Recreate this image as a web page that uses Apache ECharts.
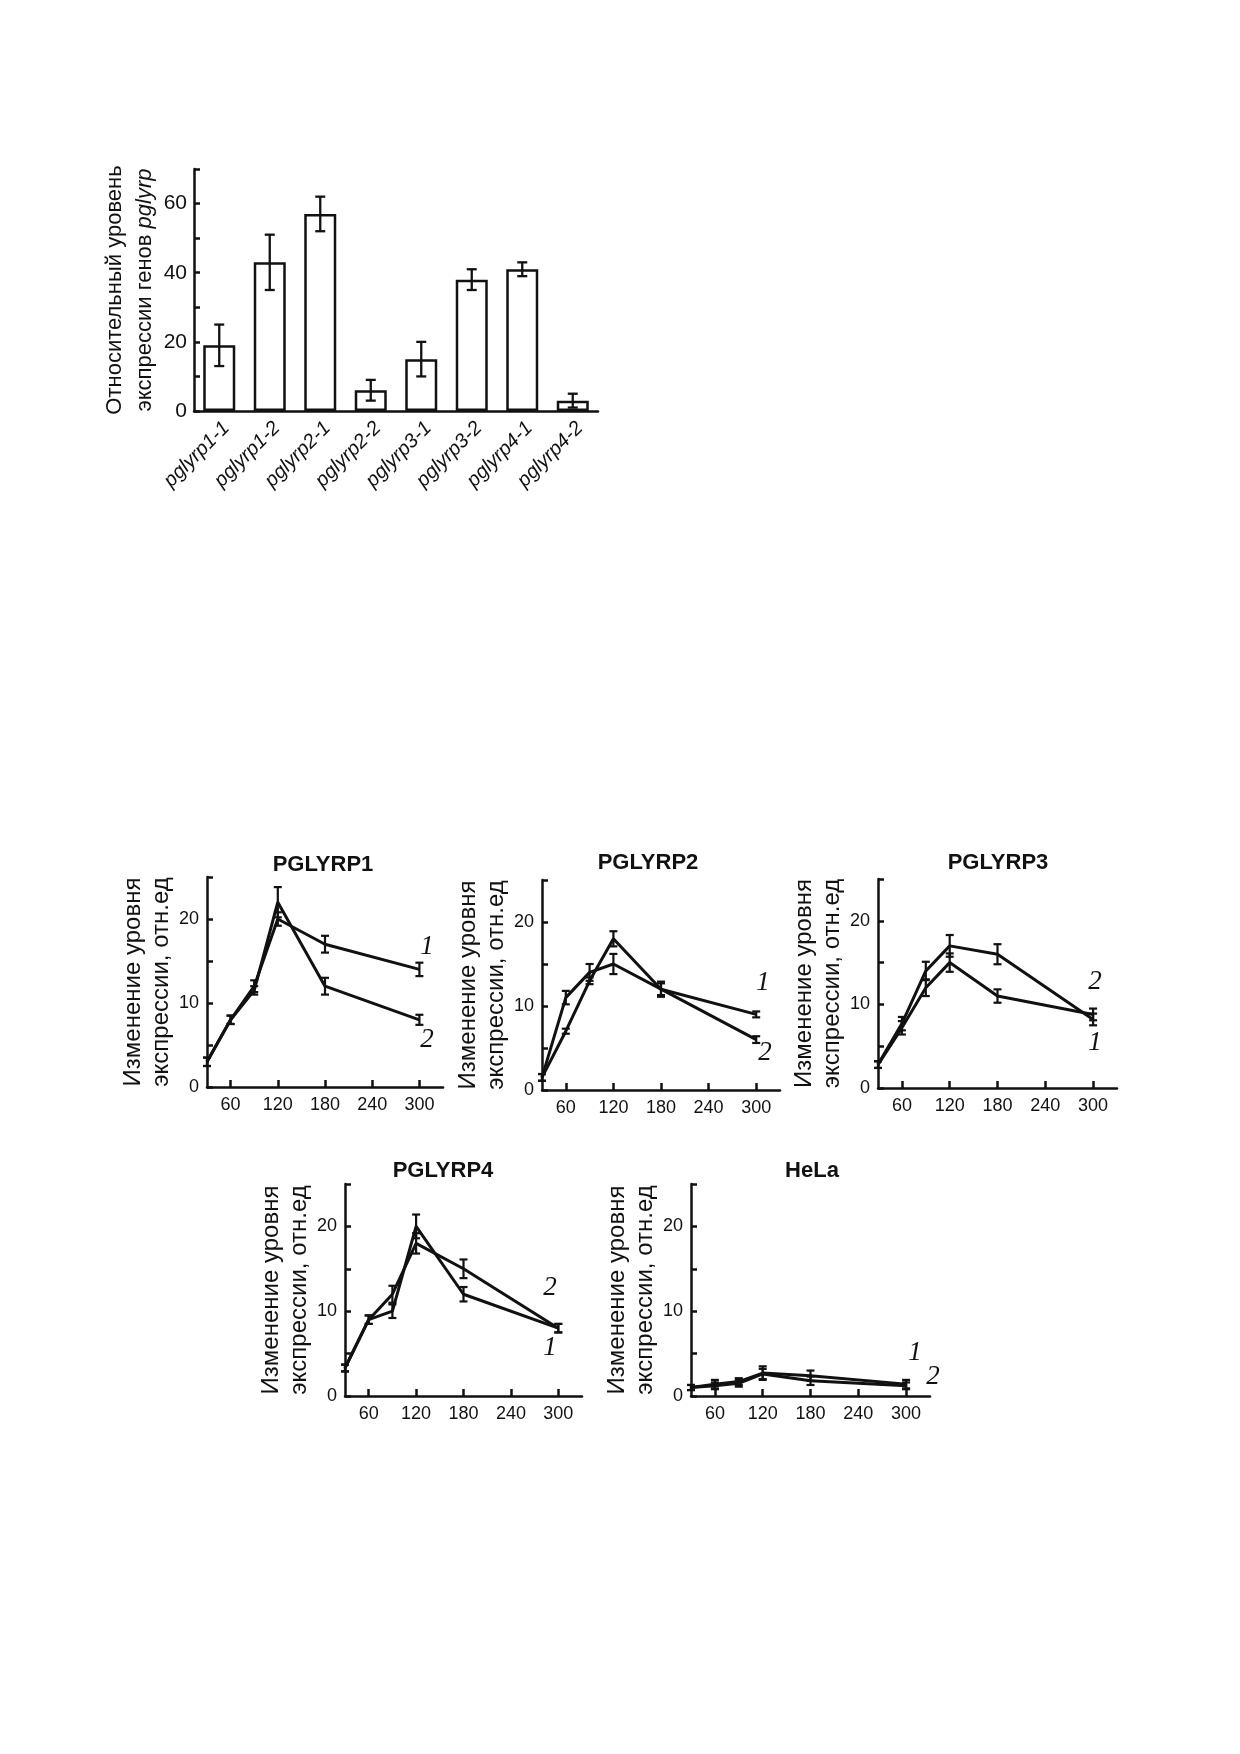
<!DOCTYPE html>
<html><head><meta charset="utf-8">
<script src="https://cdn.jsdelivr.net/npm/echarts@6/dist/echarts.min.js"></script>
<style>html,body{margin:0;padding:0;background:#fff}#c{width:1240px;height:1754px}</style>
</head><body><div id="c"></div>
<script>
// ---- Bar chart data ----
const barCategories = ['pglyrp1-1','pglyrp1-2','pglyrp2-1','pglyrp2-2','pglyrp3-1','pglyrp3-2','pglyrp4-1','pglyrp4-2'];
const barValues = [19, 43, 57, 6, 15, 38, 41, 3];
const barErrors = [6, 8, 5, 3, 5, 3, 2, 2];
const barYLabels = [0, 20, 40, 60];

// ---- Time course data ----
const timePoints = [30, 60, 90, 120, 180, 300];
const timeTickLabels = [60, 120, 180, 240, 300];
const lineYLabels = [0, 10, 20];
const panelTitles = ['PGLYRP1', 'PGLYRP2', 'PGLYRP3', 'PGLYRP4', 'HeLa'];

const p1Curve1 = [3, 8, 12, 20, 17, 14];
const p1Err1   = [0.5, 0.5, 0.7, 0.8, 1.0, 0.8];
const p1Curve2 = [3, 8, 11.5, 22, 12, 8];
const p1Err2   = [0.5, 0.5, 0.5, 1.8, 1.0, 0.6];

const p2Curve1 = [1.5, 11, 14, 15, 12, 9];
const p2Err1   = [0.4, 0.8, 1.0, 1.2, 0.9, 0.35];
const p2Curve2 = [1.5, 7, 13, 18, 12, 6];
const p2Err2   = [0.4, 0.3, 0.4, 0.9, 0.7, 0.4];

const p3Curve1 = [2.8, 7.2, 12, 15, 11, 8.8];
const p3Err1   = [0.4, 0.8, 1.0, 1.1, 0.8, 0.7];
const p3Curve2 = [2.8, 7.7, 14, 17, 16, 8.2];
const p3Err2   = [0.4, 0.8, 1.1, 1.3, 1.2, 0.7];

const p4Curve1 = [3.3, 9, 10, 20, 12, 8];
const p4Err1   = [0.4, 0.5, 0.8, 1.4, 0.85, 0.5];
const p4Curve2 = [3.3, 9, 12, 18, 15, 8];
const p4Err2   = [0.4, 0.5, 1.0, 1.2, 1.1, 0.5];

const p5Curve1 = [1, 1.4, 1.7, 2.7, 2.4, 1.4];
const p5Err1   = [0.3, 0.5, 0.4, 0.8, 0.6, 0.5];
const p5Curve2 = [1, 1.2, 1.5, 2.6, 1.8, 1.2];
const p5Err2   = [0.3, 0.4, 0.4, 0.6, 0.5, 0.4];

const curveLabels = ['1', '2'];

// ---- layout (style only) ----
const INK = '#111';
const SANS = 'Liberation Sans, Arial, sans-serif';
const SERIF = 'Liberation Serif, Times New Roman, serif';

const panels = [
  { c1: p1Curve1, e1: p1Err1, c2: p1Curve2, e2: p1Err2, grid: {left: 207, top: 877, width: 236, height: 210},
    title: [318, 862], lab1: [427, 947], lab2: [427, 1040] },
  { c1: p2Curve1, e1: p2Err1, c2: p2Curve2, e2: p2Err2, grid: {left: 542, top: 880, width: 238, height: 210},
    title: [643, 860], lab1: [763, 983], lab2: [765, 1053] },
  { c1: p3Curve1, e1: p3Err1, c2: p3Curve2, e2: p3Err2, grid: {left: 878, top: 879, width: 239, height: 209},
    title: [993, 860], lab1: [1095, 1043], lab2: [1095, 982] },
  { c1: p4Curve1, e1: p4Err1, c2: p4Curve2, e2: p4Err2, grid: {left: 345, top: 1184, width: 237, height: 212},
    title: [438, 1168], lab1: [550, 1348], lab2: [550, 1288] },
  { c1: p5Curve1, e1: p5Err1, c2: p5Curve2, e2: p5Err2, grid: {left: 691, top: 1184, width: 239, height: 212},
    title: [807, 1168], lab1: [915, 1353], lab2: [933, 1377] }
];

function errRender(capHalf, lw) {
  return function (params, api) {
    const x = api.value(0), lo = api.value(1), hi = api.value(2);
    const a = api.coord([x, lo]), b = api.coord([x, hi]);
    const st = { stroke: INK, lineWidth: lw, fill: null };
    return { type: 'group', children: [
      { type: 'line', shape: { x1: a[0], y1: a[1], x2: b[0], y2: b[1] }, style: st },
      { type: 'line', shape: { x1: a[0] - capHalf, y1: a[1], x2: a[0] + capHalf, y2: a[1] }, style: st },
      { type: 'line', shape: { x1: b[0] - capHalf, y1: b[1], x2: b[0] + capHalf, y2: b[1] }, style: st }
    ]};
  };
}

const grids = [{ left: 194, top: 169, width: 404, height: 242 }];
const xAxes = [{
  gridIndex: 0, type: 'category', data: barCategories,
  axisLine: { lineStyle: { color: INK, width: 2.5 } },
  axisTick: { inside: true, length: 5, alignWithLabel: false, lineStyle: { color: INK, width: 2.5 } },
  axisLabel: { interval: 0, rotate: 45, margin: 7, color: INK, fontFamily: SANS, fontSize: 20,
    fontStyle: 'italic', verticalAlign: 'top' }
}];
const yAxes = [{
  gridIndex: 0, type: 'value', min: 0, max: 70, interval: 10,
  splitLine: { show: false },
  axisLine: { show: true, lineStyle: { color: INK, width: 2.5 } },
  axisTick: { show: true, inside: true, length: 6, lineStyle: { color: INK, width: 2.5 } },
  axisLabel: { margin: 7, color: INK, fontFamily: SANS, fontSize: 21,
    formatter: v => barYLabels.includes(v) ? String(v) : '' },
  name: 'Относительный уровень\nэкспрессии генов {i|pglyrp}',
  nameLocation: 'middle', nameRotate: 90, nameGap: 33,
  nameTextStyle: { color: INK, fontFamily: SANS, fontSize: 22, lineHeight: 30,
    rich: { i: { fontStyle: 'italic', fontFamily: SANS, fontSize: 22, color: INK } } }
}];
const series = [
  { type: 'bar', xAxisIndex: 0, yAxisIndex: 0, data: barValues, barWidth: 32,
    itemStyle: { color: '#fff', borderColor: INK, borderWidth: 2.5 }, z: 2 },
  { type: 'custom', xAxisIndex: 0, yAxisIndex: 0, renderItem: errRender(5, 2.3),
    data: barValues.map((v, i) => [i, v - barErrors[i], v + barErrors[i]]), z: 5 }
];
const titles = [];
const graphics = [];

panels.forEach((p, k) => {
  const gi = k + 1;
  grids.push(p.grid);
  xAxes.push({
    gridIndex: gi, type: 'value', min: 30, max: 330,
    splitLine: { show: false },
    axisLine: { lineStyle: { color: INK, width: 2.5 } },
    axisTick: { inside: true, length: 7, customValues: timeTickLabels, lineStyle: { color: INK, width: 2.5 } },
    axisLabel: { customValues: timeTickLabels, margin: 9, color: INK, fontFamily: SANS, fontSize: 18 }
  });
  yAxes.push({
    gridIndex: gi, type: 'value', min: 0, max: 25, interval: 5,
    splitLine: { show: false },
    axisLine: { show: true, lineStyle: { color: INK, width: 2.5 } },
    axisTick: { show: true, inside: true, length: 6, lineStyle: { color: INK, width: 2.5 } },
    axisLabel: { margin: 8, color: INK, fontFamily: SANS, fontSize: 18,
      formatter: v => lineYLabels.includes(v) ? String(v) : '' },
    name: 'Изменение уровня\nэкспрессии, отн.ед',
    nameLocation: 'middle', nameRotate: 90, nameGap: 29,
    nameTextStyle: { color: INK, fontFamily: SANS, fontSize: 24, lineHeight: 28 }
  });
  [[p.c1, p.e1], [p.c2, p.e2]].forEach(([vals, errs]) => {
    series.push({ type: 'line', xAxisIndex: gi, yAxisIndex: gi, symbol: 'none',
      lineStyle: { color: INK, width: 3 }, data: timePoints.map((t, i) => [t, vals[i]]), z: 3 });
    series.push({ type: 'custom', xAxisIndex: gi, yAxisIndex: gi, renderItem: errRender(4, 2.2),
      data: timePoints.map((t, i) => [t, vals[i] - errs[i], vals[i] + errs[i]]), z: 4 });
  });
  titles.push({ text: panelTitles[k], left: p.title[0], top: p.title[1] - 13, textAlign: 'center',
    textStyle: { fontFamily: SANS, fontWeight: 'bold', fontSize: 22, color: INK } });
  graphics.push({ type: 'text', x: p.lab1[0], y: p.lab1[1],
    style: { text: curveLabels[0], font: 'italic 27px ' + SERIF, fill: INK, align: 'center', verticalAlign: 'middle' } });
  graphics.push({ type: 'text', x: p.lab2[0], y: p.lab2[1],
    style: { text: curveLabels[1], font: 'italic 27px ' + SERIF, fill: INK, align: 'center', verticalAlign: 'middle' } });
});

const chart = echarts.init(document.getElementById('c'), null, { renderer: 'canvas', width: 1240, height: 1754 });
chart.setOption({
  backgroundColor: '#fff',
  animation: false,
  title: titles,
  grid: grids,
  xAxis: xAxes,
  yAxis: yAxes,
  series: series,
  graphic: graphics
});
</script></body></html>
